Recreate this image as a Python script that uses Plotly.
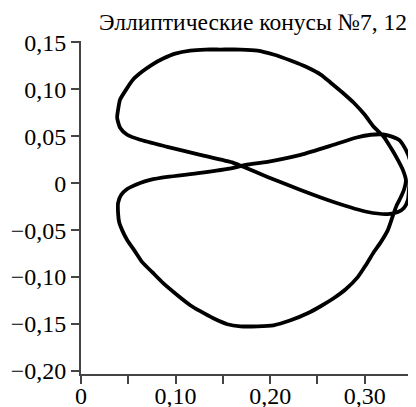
import plotly.graph_objects as go

# Curve (one closed path)
curve_x = [0.0382, 0.0392, 0.0413, 0.0477, 0.0551, 0.0647, 0.0753, 0.0869, 0.0996, 0.1155,
           0.1314, 0.1474, 0.1686, 0.1866, 0.2035, 0.2216, 0.2396, 0.2534, 0.2640, 0.2767,
           0.2884, 0.3000, 0.3095, 0.3201, 0.3276, 0.3350, 0.3403, 0.3435, 0.3414, 0.3382,
           0.3339, 0.3307, 0.3244, 0.3170, 0.3095, 0.3011, 0.2926, 0.2799, 0.2671, 0.2534,
           0.2396, 0.2216, 0.2035, 0.1866, 0.1686, 0.1548, 0.1399, 0.1261, 0.1155, 0.1007,
           0.0869, 0.0753, 0.0647, 0.0562, 0.0488, 0.0435, 0.0403, 0.0392, 0.0392, 0.0424,
           0.0488, 0.0625, 0.0731, 0.0912, 0.1261, 0.1611, 0.1739, 0.1972, 0.2322, 0.2671,
           0.2905, 0.3064, 0.3223, 0.3361, 0.3435, 0.3477, 0.3488, 0.3477, 0.3467, 0.3456,
           0.3414, 0.3350, 0.3244, 0.3032, 0.2671, 0.2322, 0.1972, 0.1717, 0.1611, 0.1261,
           0.0912, 0.0625, 0.0488, 0.0413, 0.0382]
curve_y = [0.0698, 0.0783, 0.0890, 0.0997, 0.1104, 0.1189, 0.1264, 0.1328, 0.1381, 0.1413,
           0.1424, 0.1424, 0.1424, 0.1413, 0.1371, 0.1307, 0.1232, 0.1157, 0.1071, 0.0964,
           0.0857, 0.0729, 0.0601, 0.0495, 0.0377, 0.0249, 0.0142, 0.0035, -0.0072, -0.0147,
           -0.0233, -0.0318, -0.0500, -0.0628, -0.0735, -0.0874, -0.1001, -0.1130, -0.1226, -0.1311,
           -0.1386, -0.1461, -0.1514, -0.1525, -0.1525, -0.1503, -0.1439, -0.1364, -0.1300, -0.1183,
           -0.1065, -0.0948, -0.0841, -0.0713, -0.0606, -0.0500, -0.0414, -0.0318, -0.0211, -0.0126,
           -0.0062, 0.0003, 0.0035, 0.0067, 0.0110, 0.0164, 0.0195, 0.0228, 0.0302, 0.0409,
           0.0484, 0.0516, 0.0516, 0.0463, 0.0356, 0.0249, 0.0142, 0.0035, -0.0072, -0.0179,
           -0.0264, -0.0307, -0.0329, -0.0307, -0.0200, -0.0072, 0.0067, 0.0174, 0.0217, 0.0302,
           0.0388, 0.0463, 0.0516, 0.0591, 0.0698]

x_tickvals = [0, 0.05, 0.10, 0.15, 0.20, 0.25, 0.30, 0.35]
x_ticktext = ["0", "", "0,10", "", "0,20", "", "0,30", ""]
y_tickvals = [0.15, 0.10, 0.05, 0, -0.05, -0.10, -0.15, -0.20]
y_ticktext = ["0,15", "0,10", "0,05", "0", "\u22120,05", "\u22120,10", "\u22120,15", "\u22120,20"]
title_text = "Эллиптические конусы №7, 12"

font_family = "Liberation Serif"

fig = go.Figure()
fig.add_trace(go.Scatter(
    x=curve_x, y=curve_y, mode="lines",
    line=dict(color="black", width=3.8, shape="spline", smoothing=0.6),
    hoverinfo="skip", showlegend=False,
))

axis_common = dict(
    showgrid=False, zeroline=False, showline=True, automargin=False,
    linecolor="#444444", linewidth=2,
    ticks="outside", ticklen=8, tickwidth=2, tickcolor="#444444",
    tickfont=dict(family=font_family, size=24, color="black"),
)

fig.update_xaxes(range=[0, 0.3542], tickmode="array", tickvals=x_tickvals,
                 ticktext=x_ticktext, ticklabelstandoff=-9, **axis_common)
fig.update_yaxes(range=[-0.2033, 0.1515], tickmode="array", tickvals=y_tickvals,
                 ticktext=y_ticktext, **axis_common)

fig.add_annotation(
    text=title_text, xref="paper", yref="paper",
    x=(97 - 81) / 335, y=1.0, xanchor="left", yanchor="bottom",
    showarrow=False, yshift=4,
    font=dict(family=font_family, size=23.5, color="black"),
)

fig.update_layout(
    width=408, height=399,
    margin=dict(l=73, r=0, t=33, b=33),
    paper_bgcolor="white", plot_bgcolor="white",
)

fig.write_html("out.html")
